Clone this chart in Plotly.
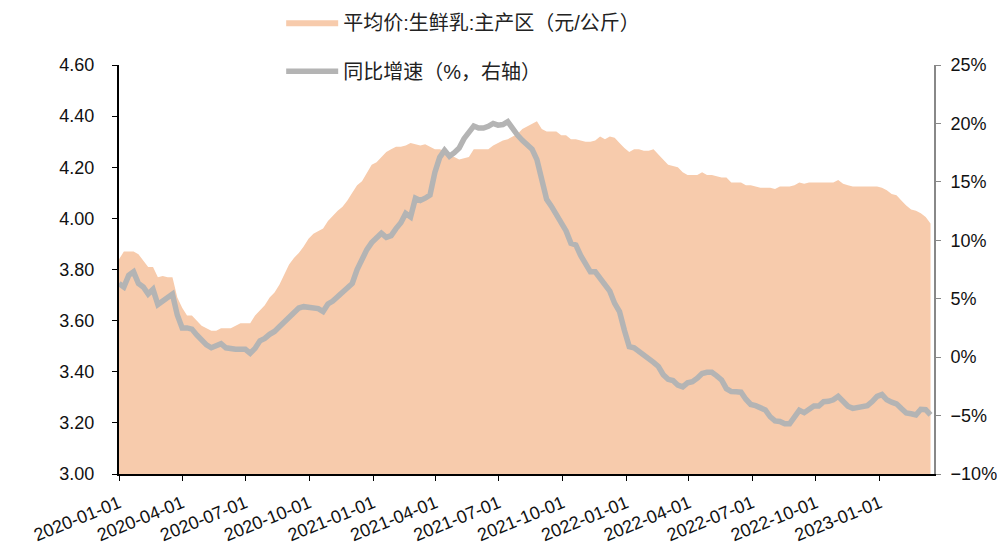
import pandas as pd
import plotly.graph_objects as go

# weekly dates starting 2020-01-01
dates = pd.date_range("2020-01-01", periods=168, freq="7D")

price = [
    3.84, 3.87, 3.87, 3.87, 3.86, 3.835, 3.81, 3.81, 3.77, 3.775,
    3.77, 3.77, 3.69, 3.65, 3.62, 3.62, 3.60, 3.58, 3.57, 3.56,
    3.56, 3.57, 3.57, 3.57, 3.58, 3.59, 3.59, 3.59, 3.62, 3.64,
    3.66, 3.69, 3.71, 3.74, 3.78, 3.82, 3.845, 3.865, 3.89, 3.92,
    3.94, 3.95, 3.96, 3.99, 4.01, 4.03, 4.045, 4.07, 4.10, 4.13,
    4.145, 4.18, 4.21, 4.22, 4.24, 4.26, 4.27, 4.28, 4.28, 4.285,
    4.295, 4.29, 4.285, 4.29, 4.28, 4.27, 4.27, 4.265, 4.245, 4.24,
    4.23, 4.235, 4.24, 4.27, 4.27, 4.27, 4.27, 4.285, 4.295, 4.305,
    4.31, 4.32, 4.33, 4.35, 4.36, 4.37, 4.38, 4.35, 4.34, 4.34,
    4.34, 4.325, 4.325, 4.31, 4.31, 4.305, 4.30, 4.30, 4.305, 4.32,
    4.31, 4.32, 4.315, 4.295, 4.275, 4.26, 4.27, 4.27, 4.265, 4.265,
    4.27, 4.25, 4.23, 4.21, 4.205, 4.20, 4.18, 4.17, 4.17, 4.17,
    4.18, 4.17, 4.17, 4.165, 4.16, 4.16, 4.14, 4.14, 4.14, 4.13,
    4.13, 4.125, 4.12, 4.12, 4.12, 4.115, 4.125, 4.125, 4.125, 4.13,
    4.14, 4.135, 4.14, 4.14, 4.14, 4.14, 4.14, 4.14, 4.15, 4.135,
    4.13, 4.125, 4.125, 4.125, 4.125, 4.125, 4.125, 4.12, 4.11, 4.095,
    4.09, 4.07, 4.05, 4.035, 4.03, 4.02, 4.005, 3.98,
]

yoy = [
    6.3, 6.0, 7.0, 7.3, 6.3, 6.0, 5.4, 5.8, 4.5, 4.8,
    5.1, 5.4, 3.6, 2.5, 2.5, 2.4, 1.9, 1.4, 1.05, 0.8,
    0.95, 1.15, 0.8, 0.7, 0.67, 0.67, 0.67, 0.33, 0.75, 1.4,
    1.6, 1.95, 2.2, 2.6, 3.0, 3.5, 3.95, 4.2, 4.32, 4.25,
    4.2, 4.15, 3.9, 4.55, 4.8, 5.2, 5.66, 5.9, 6.3, 7.5,
    8.5, 9.2, 9.8, 10.2, 10.6, 10.25, 10.4, 11.0, 11.5, 12.3,
    12.0, 13.6, 13.4, 13.6, 13.87, 15.8, 17.1, 17.7, 17.2, 17.5,
    17.9, 18.7, 19.3, 19.78, 19.6, 19.6, 19.75, 20.0, 19.85, 19.9,
    20.15, 19.5, 19.0, 18.55, 18.2, 17.8, 16.9, 15.0, 13.5, 12.9,
    12.2, 11.3, 10.8, 9.74, 9.6, 8.7, 7.9, 7.3, 7.3, 6.8,
    6.2, 5.65, 4.6, 3.9, 2.3, 0.9, 0.8, 0.5, 0.25, -0.15,
    -0.45, -0.8, -1.5, -1.9, -2.0, -2.4, -2.55, -2.2, -2.1, -1.8,
    -1.4, -1.3, -1.3, -1.6, -1.95, -2.7, -2.95, -2.97, -3.0, -3.6,
    -4.05, -4.15, -4.3, -4.52, -5.1, -5.46, -5.5, -5.7, -5.7, -5.1,
    -4.55, -4.75, -4.4, -4.18, -4.18, -3.81, -3.78, -3.65, -3.35, -3.75,
    -4.2, -4.38, -4.3, -4.2, -4.15, -3.8, -3.35, -3.2, -3.65, -3.85,
    -4.0, -4.4, -4.78, -4.85, -4.95, -4.46, -4.5, -4.95,
]

tick_dates = ["2020-01-01", "2020-04-01", "2020-07-01", "2020-10-01",
              "2021-01-01", "2021-04-01", "2021-07-01", "2021-10-01",
              "2022-01-01", "2022-04-01", "2022-07-01", "2022-10-01",
              "2023-01-01"]

name_price = "平均价:生鲜乳:主产区（元/公斤）"
name_yoy = "同比增速（%，右轴）"

FONT = "Liberation Sans, Arial, Noto Sans CJK SC, sans-serif"

fig = go.Figure()
fig.add_trace(go.Scatter(
    x=dates, y=price, name=name_price, mode="lines",
    line=dict(width=0, color="#F7CBAC"), fill="tozeroy",
    fillcolor="#F7CBAC", legendgroup="a",
))
fig.add_trace(go.Scatter(
    x=dates, y=yoy, name=name_yoy, mode="lines", yaxis="y2",
    line=dict(width=5.5, color="#B4B4B4"), legendgroup="b",
))

# page body has an 8px margin, so the figure is sized to fit the window
fig.update_layout(
    width=997, height=537,
    margin=dict(l=111, r=71, t=57, b=71, autoexpand=False),
    paper_bgcolor="white", plot_bgcolor="white",
    font=dict(family=FONT, size=17, color="#222222"),
    showlegend=True,
    legend=dict(
        x=0.199, y=1.152, xanchor="left", yanchor="top",
        bgcolor="rgba(0,0,0,0)", font=dict(size=20, color="#222222"),
        tracegroupgap=20, itemwidth=52, traceorder="grouped",
    ),
    xaxis=dict(
        type="date", automargin=False,
        range=["2020-01-01", "2023-03-20"],
        tickvals=tick_dates, ticktext=tick_dates,
        tickangle=-22, tickfont=dict(size=18, color="#111111"),
        ticklabelstandoff=5,
        showline=True, linecolor="black", linewidth=2,
        ticks="outside", ticklen=5, tickcolor="black",
        showgrid=False, zeroline=False,
    ),
    yaxis=dict(
        range=[3.0, 4.6], dtick=0.2, tickformat=".2f", automargin=False,
        showline=True, linecolor="black", linewidth=2,
        ticks="outside", ticklen=5, tickcolor="black",
        tickfont=dict(size=18, color="#111111"), ticklabelstandoff=14,
        showgrid=False, zeroline=False,
    ),
    yaxis2=dict(
        range=[-10, 25], dtick=5, ticksuffix="%", automargin=False,
        overlaying="y", side="right",
        showline=True, linecolor="#888888", linewidth=2,
        ticks="outside", ticklen=5, tickcolor="#888888",
        tickfont=dict(size=18, color="#111111"), ticklabelstandoff=6,
        showgrid=False, zeroline=False,
    ),
)

fig.write_html("out.html")
